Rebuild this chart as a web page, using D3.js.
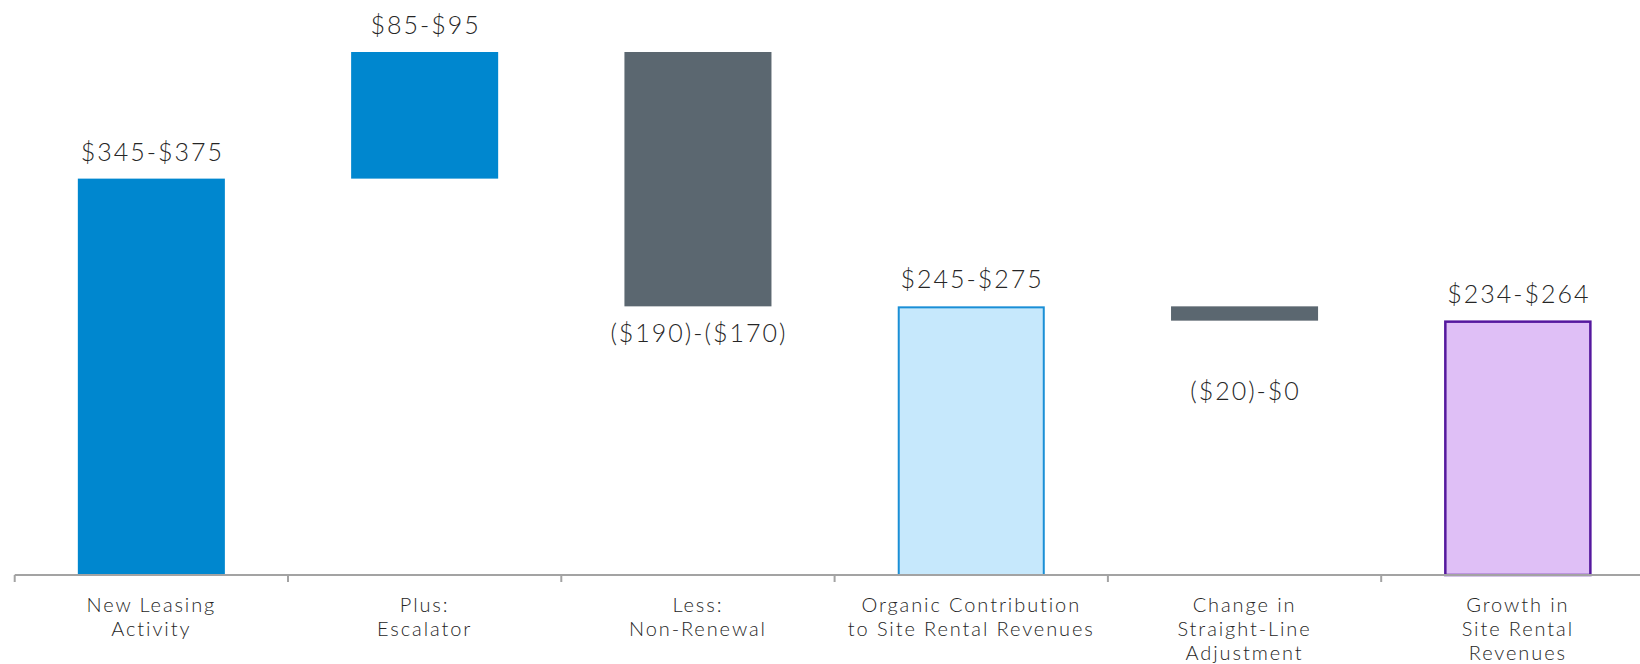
<!DOCTYPE html>
<html>
<head>
<meta charset="utf-8">
<script src="https://cdn.jsdelivr.net/npm/d3@7"></script>
<style>
  html, body { margin: 0; padding: 0; background: #fff; }
  svg { display: block; }
</style>
</head>
<body>
<div id="chart"></div>
<script>
// categories, two lines each
const categories = [
    ['New Leasing', 'Activity'],
    ['Plus:', 'Escalator'],
    ['Less:', 'Non-Renewal'],
    ['Organic Contribution', 'to Site Rental Revenues'],
    ['Change in', 'Straight-Line', 'Adjustment'],
    ['Growth in', 'Site Rental', 'Revenues']
];
// where each floating bar starts and ends
const barStart = [0, 360, 475, 0, 244, 0];
const barEnd = [360, 475, 244, 244, 231, 231];
const valueLabels = ['$345-$375', '$85-$95', '($190)-($170)', '$245-$275', '($20)-$0', '$234-$264'];
const barKind = ['up', 'up', 'down', 'subtotal', 'down', 'total'];

const fills = { up: '#0087cf', down: '#5b6770', subtotal: '#c6e8fc', total: '#dfbff6' };
const strokes = { up: 'none', down: 'none', subtotal: '#1a8fd6', total: '#55189e' };
// extra push for labels that sit further from their bar
const labelNudge = { 4: 43 };

const W = 1640, H = 664;
const fontFamily = "Lato, 'Open Sans', sans-serif";
const textColor = '#262626';

const svg = d3.select('#chart').append('svg')
    .attr('width', W)
    .attr('height', H);

const step = 273.3;
const x = d3.scaleBand()
    .domain(d3.range(categories.length))
    .range([14.7, 14.7 + step * categories.length])
    .paddingInner(0.462)
    .paddingOuter(0.231);

const y = d3.scaleLinear()
    .domain([0, 475])
    .range([575, 52]);

const hasStroke = i => strokes[barKind[i]] !== 'none';

// bars
svg.selectAll('.bar')
    .data(d3.range(categories.length))
    .enter()
    .append('rect')
    .attr('class', 'bar')
    .attr('x', i => x(i) + (hasStroke(i) ? 1 : 0))
    .attr('width', i => x.bandwidth() - (hasStroke(i) ? 2 : 0))
    .attr('y', i => y(Math.max(barStart[i], barEnd[i])) + (hasStroke(i) ? 1 : 0))
    .attr('height', i => Math.abs(y(barStart[i]) - y(barEnd[i])) - (hasStroke(i) ? 1 : 0))
    .attr('fill', i => fills[barKind[i]])
    .attr('stroke', i => strokes[barKind[i]])
    .attr('stroke-width', i => barKind[i] === 'total' ? 2.5 : 2);

// axis line + ticks between categories
const axis = svg.append('g').attr('class', 'x-axis');
axis.append('line')
    .attr('x1', x.range()[0])
    .attr('x2', W)
    .attr('y1', y(0))
    .attr('y2', y(0))
    .style('stroke', '#a3a3a3')
    .style('stroke-width', '2px');

axis.selectAll('.tick-mark')
    .data(d3.range(categories.length))
    .enter()
    .append('line')
    .attr('class', 'tick-mark')
    .attr('x1', i => x(i) - (x.step() - x.bandwidth()) / 2)
    .attr('x2', i => x(i) - (x.step() - x.bandwidth()) / 2)
    .attr('y1', y(0))
    .attr('y2', y(0) + 7)
    .style('stroke', '#a3a3a3')
    .style('stroke-width', '2px');

// category labels
const catLabels = axis.selectAll('.cat-label')
    .data(d3.range(categories.length))
    .enter()
    .append('text')
    .attr('class', 'cat-label')
    .attr('x', i => x(i) + x.bandwidth() / 2)
    .attr('y', 612)
    .attr('text-anchor', 'middle')
    .style('font-size', '20px')
    .style('letter-spacing', '1.9px')
    .style('font-family', fontFamily)
    .style('font-weight', 300)
    .style('fill', textColor);

catLabels.selectAll('tspan')
    .data(i => categories[i])
    .enter()
    .append('tspan')
    .attr('x', function () { return d3.select(this.parentNode).attr('x'); })
    .attr('dy', (d, j) => j === 0 ? 0 : 24)
    .text(d => d);

// value labels
svg.selectAll('.value-label')
    .data(d3.range(categories.length))
    .enter()
    .append('text')
    .attr('class', 'value-label')
    .attr('x', i => x(i) + x.bandwidth() / 2 + 1)
    .attr('y', i => {
        if (barKind[i] === 'down') {
            return y(Math.min(barStart[i], barEnd[i])) + 36 + (labelNudge[i] || 0);
        }
        return y(Math.max(barStart[i], barEnd[i])) - 18;
    })
    .attr('text-anchor', 'middle')
    .style('font-size', '25px')
    .style('letter-spacing', '2px')
    .style('font-family', fontFamily)
    .style('font-weight', 300)
    .style('fill', textColor)
    .text(i => valueLabels[i]);
</script>
</body>
</html>
